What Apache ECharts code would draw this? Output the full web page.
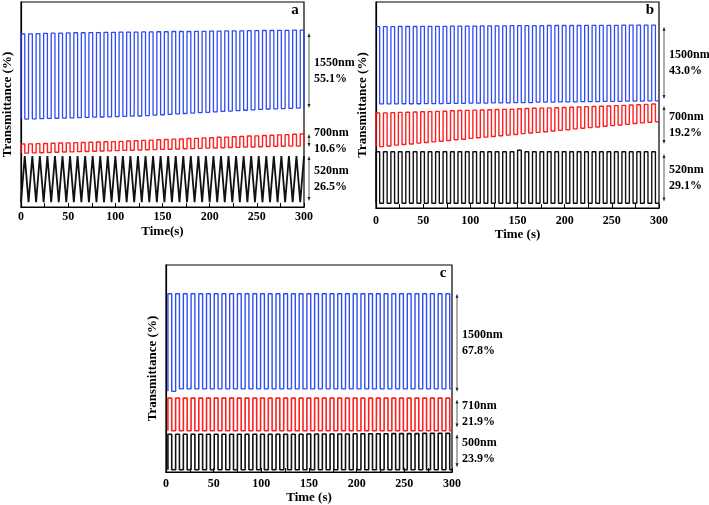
<!DOCTYPE html>
<html><head><meta charset="utf-8">
<script src="https://cdn.jsdelivr.net/npm/echarts/dist/echarts.min.js"></script>
<style>html,body{margin:0;padding:0;background:#fff}#chart{width:709px;height:505px}</style>
</head><body><div id="chart"></div>
<script>
// ---------- shared ----------
const xTickLabels = [0, 50, 100, 150, 200, 250, 300];
const xMax = 300;

// ---------- panel a ----------
const riseA = [0,8,16,24,32,40,48,56,64,72,80,88,96,104,112,120,128,136,144,152,160,168,176,184,192,200,208,216,224,232,240,248,256,264,272,280,288,296];
const fallA = [4,12,20,28,36,44,52,60,68,76,84,92,100,108,116,124,132,140,148,156,164,172,180,188,196,204,212,220,228,236,244,252,260,268,276,284,292,300];
const blueHiA = [84.4,84.5,84.6,84.7,84.8,84.8,84.9,85.0,85.0,85.1,85.1,85.2,85.2,85.3,85.3,85.3,85.4,85.4,85.5,85.5,85.6,85.6,85.6,85.7,85.7,85.8,85.8,85.9,85.9,85.9,86.0,86.0,86.1,86.1,86.2,86.2,86.3,86.3];
const blueLoA = [42.9,43.0,43.1,43.2,43.3,43.4,43.5,43.6,43.7,43.8,43.9,44.0,44.1,44.2,44.3,44.4,44.6,44.8,45.0,45.2,45.4,45.6,45.8,46.0,46.2,46.4,46.6,46.8,47.0,47.2,47.4,47.6,47.8,47.9,48.0,48.1,48.2,48.3];
const redHiA = [30.7,30.8,30.9,31.0,31.1,31.2,31.3,31.4,31.5,31.6,31.7,31.8,31.9,32.0,32.2,32.3,32.5,32.6,32.8,32.9,33.1,33.2,33.4,33.5,33.7,33.8,34.0,34.1,34.3,34.4,34.6,34.7,34.9,35.0,35.2,35.3,35.5,35.6];
const redLoA = [26.3,26.4,26.5,26.6,26.7,26.8,26.9,27.0,27.1,27.2,27.3,27.4,27.5,27.6,27.7,27.8,27.9,28.0,28.1,28.2,28.3,28.4,28.5,28.6,28.7,28.8,28.9,29.0,29.1,29.2,29.3,29.4,29.5,29.6,29.6,29.7,29.7,29.8];
const blackHiA = [24.9,24.9,24.9,24.9,24.9,24.9,24.9,24.9,24.9,24.9,24.9,24.9,24.9,24.9,24.9,24.9,24.9,24.9,24.9,24.9,24.9,24.9,24.9,24.9,24.9,24.9,24.9,24.9,24.9,24.9,24.9,24.9,24.9,24.9,24.9,24.9,24.9,24.9];
const blackLoA = [2.4,2.4,2.4,2.4,2.4,2.4,2.4,2.4,2.4,2.4,2.4,2.4,2.4,2.4,2.4,2.4,2.4,2.4,2.4,2.4,2.4,2.4,2.4,2.4,2.4,2.4,2.4,2.4,2.4,2.4,2.4,2.4,2.4,2.4,2.4,2.4,2.4,2.4];
const labelsA = [['1550nm','55.1%'],['700nm','10.6%'],['520nm','26.5%']];
const spansA = [[84.9,48.3],[35.6,29.3],[24.9,2.9]];

// ---------- panel b ----------
const riseB = [0,7.9,15.8,23.7,31.6,39.5,47.4,55.3,63.2,71.1,79,86.9,94.8,102.7,110.6,118.5,126.4,134.3,142.2,150.1,158,165.9,173.8,181.7,189.6,197.5,205.4,213.3,221.2,229.1,237,244.9,252.8,260.7,268.6,276.5,284.4,292.3];
const fallB = [3.9,11.8,19.7,27.6,35.5,43.4,51.3,59.2,67.1,75,82.9,90.8,98.7,106.6,114.5,122.4,130.3,138.2,146.1,154,161.9,169.8,177.7,185.6,193.5,201.4,209.3,217.2,225.1,233,240.9,248.8,256.7,264.6,272.5,280.4,288.3,296.2];
const blueHiB = [88.0,88.0,88.0,88.1,88.1,88.1,88.2,88.2,88.2,88.2,88.3,88.3,88.3,88.3,88.4,88.4,88.4,88.4,88.5,88.5,88.5,88.5,88.5,88.6,88.6,88.6,88.6,88.6,88.7,88.7,88.7,88.7,88.7,88.8,88.8,88.8,88.8,88.8];
const blueLoB = [50.5,50.5,50.5,50.6,50.6,50.6,50.7,50.7,50.7,50.8,50.8,50.8,50.9,50.9,50.9,51.0,51.0,51.0,51.2,51.2,51.2,51.4,51.4,51.4,51.5,51.5,51.5,51.6,51.6,51.6,51.8,51.8,51.8,51.9,51.9,51.9,52.0,52.0];
const redHiB = [46.1,46.2,46.3,46.4,46.5,46.6,46.7,46.8,46.9,47.0,47.2,47.3,47.4,47.5,47.6,47.7,47.8,47.9,48.0,48.2,48.3,48.4,48.5,48.6,48.7,48.8,48.9,49.0,49.2,49.3,49.4,49.5,49.7,49.8,50.0,50.1,50.3,50.5];
const redLoB = [29.8,30.1,30.5,30.8,31.1,31.5,31.8,32.1,32.4,32.8,33.1,33.4,33.8,34.1,34.4,34.7,35.1,35.4,35.7,36.1,36.4,36.7,37.0,37.4,37.7,38.0,38.4,38.7,39.0,39.3,39.7,40.0,40.3,40.6,41.0,41.3,41.6,41.9];
const blackHiB = [27.3,27.3,27.3,27.3,27.3,27.3,27.3,27.3,27.3,27.3,27.3,27.3,27.3,27.3,27.3,27.3,27.3,27.3,27.3,28.0,27.3,27.3,27.3,27.3,27.3,27.3,27.3,27.3,27.3,27.3,27.3,27.3,27.3,27.3,27.3,27.3,27.3,27.3];
const blackLoB = [2.3,2.3,2.3,2.3,2.3,2.3,2.3,2.3,2.3,2.3,2.3,2.3,2.3,2.3,2.3,2.3,2.3,2.3,2.3,2.3,2.3,2.3,2.3,2.3,2.3,2.3,2.3,2.3,2.3,2.3,2.3,2.3,2.3,2.3,2.3,2.3,2.3,2.3];
const labelsB = [['1500nm','43.0%'],['700nm','19.2%'],['520nm','29.1%']];
const spansB = [[88.0,52.9],[49.5,31.1],[26.2,3.1]];

// ---------- panel c ----------
const riseC = [2,10.1,18.2,26.3,34.4,42.5,50.6,58.7,66.8,74.9,83,91.1,99.2,107.3,115.4,123.5,131.6,139.7,147.8,155.9,164,172.1,180.2,188.3,196.4,204.5,212.6,220.7,228.8,236.9,245,253.1,261.2,269.3,277.4,285.5,293.6];
const fallC = [6,14.1,22.2,30.3,38.4,46.5,54.6,62.7,70.8,78.9,87,95.1,103.2,111.3,119.4,127.5,135.6,143.7,151.8,159.9,168,176.1,184.2,192.3,200.4,208.5,216.6,224.7,232.8,240.9,249,257.1,265.2,273.3,281.4,289.5,297.6];
const blueHiC = [86.1,86.1,86.1,86.1,86.1,86.1,86.1,86.1,86.1,86.1,86.1,86.1,86.1,86.1,86.1,86.1,86.1,86.1,86.1,86.1,86.1,86.1,86.1,86.1,86.1,86.1,86.1,86.1,86.1,86.1,86.1,86.1,86.1,86.1,86.1,86.1,86.1];
const blueLoC = [39.0,40.2,40.2,40.2,40.2,40.2,40.2,40.2,40.2,40.2,40.2,40.2,40.2,40.2,40.2,40.2,40.2,40.2,40.2,40.2,40.2,40.2,40.2,40.2,40.2,40.2,40.2,40.2,40.2,40.2,40.2,40.2,40.2,40.2,40.2,40.2,40.2];
const redHiC = [35.7,35.7,35.7,35.7,35.7,35.7,35.7,35.7,35.7,35.7,35.7,35.7,35.7,35.7,35.7,35.7,35.7,35.7,35.7,35.7,35.7,35.7,35.7,35.7,35.7,35.7,35.7,35.7,35.7,35.7,35.7,35.7,35.7,35.7,35.7,35.7,35.7];
const redLoC = [20.0,20.0,20.0,20.0,20.0,20.0,20.0,20.0,20.0,20.0,20.0,20.0,20.0,20.0,20.0,20.0,20.0,20.0,20.0,20.0,20.0,20.0,20.0,20.0,20.0,20.0,20.0,20.0,20.0,20.0,20.0,20.0,20.0,20.0,20.0,20.0,20.0];
const blackHiC = [18.3,18.3,18.3,18.3,18.3,18.3,18.3,18.3,18.3,18.3,18.3,18.3,18.3,18.3,18.3,18.3,18.3,18.3,18.4,18.4,18.4,18.4,18.4,18.4,18.5,18.5,18.5,18.5,18.5,18.6,18.6,18.6,18.6,18.7,18.7,18.7,18.7];
const blackLoC = [1.1,1.1,1.1,1.1,1.1,1.1,1.1,1.1,1.1,1.1,1.1,1.1,1.1,1.1,1.1,1.1,1.1,1.1,1.1,1.1,1.1,1.1,1.1,1.1,1.1,1.1,1.1,1.1,1.1,1.1,1.1,1.1,1.1,1.1,1.1,1.1,1.1];
const labelsC = [['1500nm','67.8%'],['710nm','21.9%'],['500nm','23.9%']];
const spansC = [[86.1,38.8],[35.1,21.5],[18.3,2.4]];

const panelLetters = ['a', 'b', 'c'];
const xNames = ['Time(s)', 'Time (s)', 'Time (s)'];
const yName = 'Transmittance (%)';
const colors = ['#2f4cf2', '#ff1f1f', '#111111'];

// ---------- builders ----------
function squareWave(rise, fall, hi, lo, startLow) {
  const d = [];
  if (startLow) d.push([rise[0], lo[0]]);
  for (let i = 0; i < rise.length; i++) {
    d.push([rise[i], hi[i]]);
    d.push([fall[i], lo[i]]);
  }
  if (d[d.length - 1][0] < xMax) d.push([xMax, lo[lo.length - 1]]);
  return d;
}
function triangleWave(rise, fall, hi, lo) {
  const d = [];
  for (let i = 0; i < rise.length; i++) {
    d.push([rise[i], lo[i]]);
    d.push([fall[i], hi[i]]);
  }
  return d;
}

const FONT = 'Liberation Serif, Times New Roman, serif';
const grids = [
  { left: 20, top: 2, width: 284, height: 205 },
  { left: 376, top: 2, width: 283, height: 206 },
  { left: 166, top: 265, width: 286, height: 209 }
];
const nameGaps = [18, 20, 17];
const labelMargins = [4, 7, 6];

const option = {
  animation: false,
  backgroundColor: '#fff',
  grid: grids.map(g => Object.assign({ show: true, borderColor: '#000', borderWidth: 1.2, backgroundColor: 'transparent' }, g)),
  xAxis: grids.map((g, i) => ({
    gridIndex: i, type: 'value', min: 0, max: xMax, interval: 25,
    axisLine: { lineStyle: { color: '#000', width: 1.2 } },
    axisTick: { inside: true, length: 4, lineStyle: { color: '#000', width: 1 } },
    axisLabel: {
      color: '#000', fontFamily: FONT, fontWeight: 'bold', fontSize: 12, margin: labelMargins[i],
      formatter: v => (xTickLabels.indexOf(v) >= 0 ? String(v) : '')
    },
    splitLine: { show: false },
    name: xNames[i], nameLocation: 'middle', nameGap: nameGaps[i],
    nameTextStyle: { color: '#000', fontFamily: FONT, fontWeight: 'bold', fontSize: 13 }
  })),
  yAxis: grids.map((g, i) => ({
    gridIndex: i, type: 'value', min: 0, max: 100,
    axisLine: { show: true, lineStyle: { color: '#000', width: 1.2 } },
    axisTick: { show: false }, axisLabel: { show: false }, splitLine: { show: false },
    name: yName, nameLocation: 'middle', nameGap: 7, nameRotate: 90,
    nameTextStyle: { color: '#000', fontFamily: FONT, fontWeight: 'bold', fontSize: 13 }
  })),
  series: []
};

function addSq(gi, data, color, width) {
  option.series.push({ type: 'line', xAxisIndex: gi, yAxisIndex: gi, data: data, step: 'end',
    showSymbol: false, symbol: 'none', lineStyle: { color: color, width: width }, silent: true });
}
function addLine(gi, data, color, width) {
  option.series.push({ type: 'line', xAxisIndex: gi, yAxisIndex: gi, data: data,
    showSymbol: false, symbol: 'none', lineStyle: { color: color, width: width }, silent: true });
}

addSq(0, squareWave(riseA, fallA, blueHiA, blueLoA, true), colors[0], 1.3);
addSq(0, squareWave(riseA, fallA, redHiA, redLoA, true), colors[1], 1.4);
addLine(0, triangleWave(riseA, fallA, blackHiA, blackLoA), colors[2], 1.8);

addSq(1, squareWave(riseB, fallB, blueHiB, blueLoB, false), colors[0], 1.3);
addSq(1, squareWave(riseB, fallB, redHiB, redLoB, true), colors[1], 1.4);
addSq(1, squareWave(riseB, fallB, blackHiB, blackLoB, true), colors[2], 1.4);

addSq(2, squareWave(riseC, fallC, blueHiC, blueLoC, true), colors[0], 1.4);
addSq(2, squareWave(riseC, fallC, redHiC, redLoC, true), colors[1], 1.6);
addSq(2, squareWave(riseC, fallC, blackHiC, blackLoC, true), colors[2], 1.6);

const chart = echarts.init(document.getElementById('chart'), null, { renderer: 'canvas' });
chart.setOption(option);

// ---------- annotations (arrows + labels + panel letters) ----------
const graphics = [];
const allSpans = [spansA, spansB, spansC];
const allLabels = [labelsA, labelsB, labelsC];
for (let gi = 0; gi < 3; gi++) {
  const corner = chart.convertToPixel({ gridIndex: gi }, [xMax, 100]);
  graphics.push({ type: 'text', x: corner[0] - 9, y: corner[1] + 8,
    style: { text: panelLetters[gi], font: 'bold 15px ' + FONT, fill: '#000', textAlign: 'center', textVerticalAlign: 'middle' } });
  allSpans[gi].forEach((sp, k) => {
    const p1 = chart.convertToPixel({ gridIndex: gi }, [xMax, sp[0]]);
    const p2 = chart.convertToPixel({ gridIndex: gi }, [xMax, sp[1]]);
    const ax = p1[0] + 5;
    graphics.push({ type: 'line', shape: { x1: ax, y1: p1[1] + 3, x2: ax, y2: p2[1] - 3 },
      style: { stroke: '#333', lineWidth: 0.8 } });
    graphics.push({ type: 'polygon', shape: { points: [[ax - 1.5, p1[1] + 4], [ax + 1.5, p1[1] + 4], [ax, p1[1]]] }, style: { fill: '#222' } });
    graphics.push({ type: 'polygon', shape: { points: [[ax - 1.5, p2[1] - 4], [ax + 1.5, p2[1] - 4], [ax, p2[1]]] }, style: { fill: '#222' } });
    const cy = (p1[1] + p2[1]) / 2;
    const lab = allLabels[gi][k];
    graphics.push({ type: 'text', x: ax + 5, y: cy - 8,
      style: { text: lab[0], font: 'bold 12px ' + FONT, fill: '#000', textAlign: 'left', textVerticalAlign: 'middle' } });
    graphics.push({ type: 'text', x: ax + 5, y: cy + 8,
      style: { text: lab[1], font: 'bold 12px ' + FONT, fill: '#000', textAlign: 'left', textVerticalAlign: 'middle' } });
  });
}
chart.setOption({ graphic: graphics });
</script>
</body></html>
